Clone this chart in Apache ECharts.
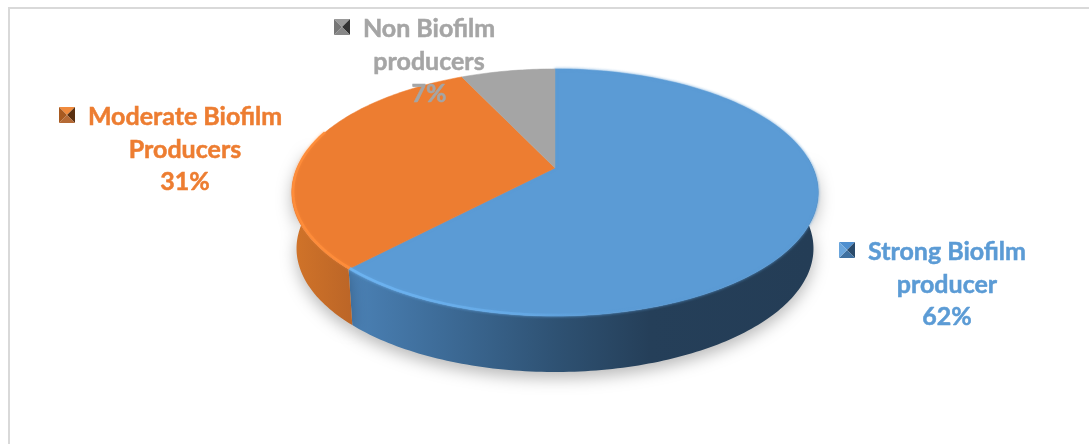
<!DOCTYPE html>
<html><head><meta charset="utf-8">
<style>html,body{margin:0;padding:0;background:#fff}#c{width:1089px;height:444px}</style>
<script src="https://cdn.jsdelivr.net/npm/echarts@6/dist/echarts.min.js"></script>
</head><body><div id="c"></div>
<script>
const categories = ['Strong Biofilm producer','Moderate Biofilm Producers','Non Biofilm producers'];
const labelLines = [['Strong Biofilm','producer'],['Moderate Biofilm','Producers'],['Non Biofilm','producers']];
const values = [62,31,7];
const colors = ['#5b9bd5','#ed7d31','#a5a5a5'];
const labelCenters = [[947,252],[185,117],[429,29]];
const keyCorners = [[839,242],[59,107],[334,19]];

const G = {cx:555, cy:168, a:118.7, k:258, e:0.198, depth:56, shrink:0.982};
const total = values.reduce((a,b)=>a+b,0);
const starts = []; let acc=0; values.forEach(v=>{starts.push(acc/total*360); acc+=v;});
const rad = d=>d*Math.PI/180;
function rimTop(t){const s=Math.sin(rad(t)),c=Math.cos(rad(t)),d=1+G.e*c;return [G.cx+G.k*s/d, G.cy-G.a*c/d];}
function rimLow(t){const p=rimTop(t);return [G.cx+(p[0]-G.cx)*G.shrink,p[1]+G.depth];}
function arc(a,b,f){const o=[],n=Math.max(2,Math.ceil(Math.abs(b-a)));for(let i=0;i<=n;i++)o.push(f(a+(b-a)*i/n));return o;}
const LG=(x0,y0,x1,y1,st)=>new echarts.graphic.LinearGradient(x0,y0,x1,y1,st,true);

const wallFill=[
  LG(353,0,810,0,[{offset:0,color:'#4a80b4'},{offset:0.2,color:'#3d6b97'},{offset:0.45,color:'#2e5172'},{offset:0.65,color:'#253f59'},{offset:1,color:'#243d56'}]),
  LG(295,0,353,0,[{offset:0,color:'#d07329'},{offset:1,color:'#bb6527'}])
];
const bevel=[
  LG(353,0,640,0,[{offset:0,color:'rgba(109,180,242,0.95)'},{offset:0.6,color:'rgba(109,180,242,0.45)'},{offset:1,color:'rgba(91,155,213,0)'}]),
  LG(292,0,353,0,[{offset:0,color:'rgba(255,141,58,0.95)'},{offset:1,color:'rgba(255,141,58,0.95)'}])
];
const wallRange=[[85,null],[null,282]];

function wallItem(p,api){
  const i=api.value(0), a0=starts[i], a1=a0+api.value(1)/total*360;
  if(!wallRange[i]) return {type:'group',children:[]};
  const a=wallRange[i][0]==null?a0:wallRange[i][0], b=wallRange[i][1]==null?a1:wallRange[i][1];
  const pts=arc(a,b,rimTop).concat(arc(b,a,rimLow));
  return {type:'polygon',shape:{points:pts},style:{fill:wallFill[i],shadowColor:'rgba(0,0,0,0.28)',shadowBlur:16,shadowOffsetY:6}};
}
function faceItem(p,api){
  const i=api.value(0), a0=starts[i], a1=a0+api.value(1)/total*360;
  const pts=[[G.cx,G.cy]].concat(arc(a0,a1,rimTop));
  const soft=i===0?{shadowColor:'rgba(91,155,213,0.9)',shadowBlur:3}:{};
  return {type:'polygon',shape:{points:pts},style:Object.assign({fill:colors[i],stroke:colors[i],lineWidth:0.5},soft)};
}
function bevelItem(p,api){
  const i=api.value(0), a0=starts[i], a1=a0+api.value(1)/total*360;
  if(!bevel[i]||!wallRange[i]) return {type:'group',children:[]};
  const a=i===0?130:a0, b=i===0?a1:288;
  const pts=arc(a,b,t=>{const q=rimTop(t);return [G.cx+(q[0]-G.cx)*0.995,q[1]-1];});
  return {type:'polyline',shape:{points:pts},style:{fill:'none',stroke:bevel[i],lineWidth:2.5,shadowColor:i===0?'rgba(109,180,242,0.5)':'rgba(255,141,58,0.5)',shadowBlur:3}};
}
const keyShades=[
  ['#4f8fcf','#2a4a6a','#3f70a0','#6aa5dc'],
  ['#f08a3c','#5a3010','#b56a35','#a85a20'],
  ['#9a9a9a','#333333','#888888','#777777']
];
function labelItem(p,api){
  const i=api.value(0), c=labelCenters[i], k=keyCorners[i], ch=[];
  const text=labelLines[i].concat([Math.round(api.value(1)/total*100)+'%']);
  text.forEach((t,j)=>ch.push({type:'text',style:{text:t,x:c[0],y:c[1]+j*32.5,fill:colors[i],stroke:colors[i],lineWidth:0.5,font:'bold 25px Lato',align:'center',verticalAlign:'middle'}}));
  const S=16,x=k[0],y=k[1],m=[x+S/2,y+S/2];
  const tri=[[[x,y],[x+S,y],m],[[x+S,y],[x+S,y+S],m],[[x+S,y+S],[x,y+S],m],[[x,y+S],[x,y],m]];
  keyShades[i].forEach((col,j)=>ch.push({type:'polygon',shape:{points:tri[j]},style:{fill:col}}));
  return {type:'group',children:ch};
}
const rows=values.map((v,i)=>[i,v,categories[i]]);
const chart=echarts.init(document.getElementById('c'),null,{renderer:'canvas'});
const mk=(fn,z)=>({type:'custom',coordinateSystem:'none',renderItem:fn,data:rows,z,silent:true,animation:false,clip:false});
chart.setOption({
  animation:false,backgroundColor:'#fff',
  graphic:[{type:'rect',shape:{x:9,y:8,width:1200,height:500},style:{fill:'none',stroke:'#d9d9d9',lineWidth:2},z:0}],
  series:[mk(wallItem,1),mk(faceItem,2),mk(bevelItem,3),mk(labelItem,4)]
});
</script></body></html>
